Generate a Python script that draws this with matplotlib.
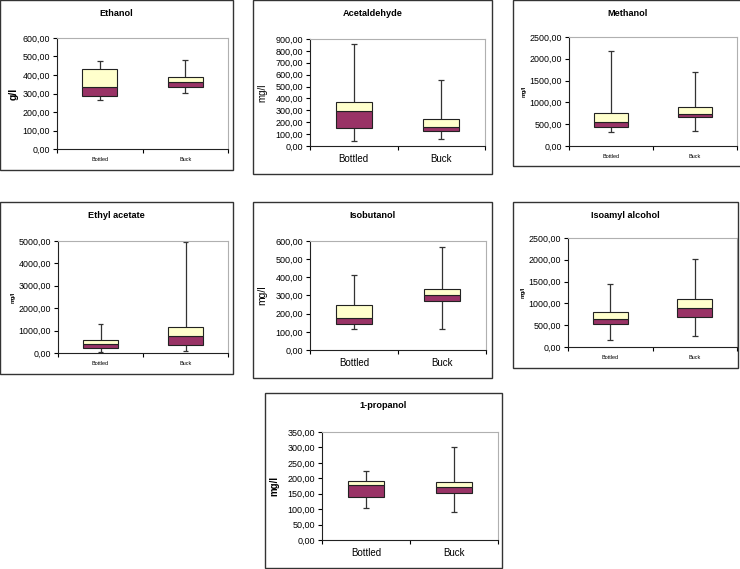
import matplotlib
matplotlib.use("Agg")
from matplotlib import pyplot as plt
from matplotlib.patches import Rectangle
from matplotlib.ticker import FuncFormatter, MultipleLocator, FixedLocator

plt.rcParams['font.family'] = ['Liberation Sans', 'DejaVu Sans']

# Dados
compostos = ["Ethanol", "Acetaldehyde", "Methanol", "Ethyl acetate",
             "Isobutanol", "Isoamyl alcohol", "1-propanol"]
unidades = ["g/l", "mg/l", "mg/l", "mg/l", "mg/l", "mg/l", "mg/l"]
grupos = ["Bottled", "Buck"]
y_max = [600, 900, 2500, 5000, 600, 2500, 350]
y_passo = [100, 100, 500, 1000, 100, 500, 50]

# Bottled: minimo, Q1, mediana, Q3, maximo
bot_min = [266, 39, 314, 45, 117, 168, 103]
bot_q1 = [284, 149, 437, 209, 141, 528, 140]
bot_med = [333, 294, 552, 403, 175, 642, 178]
bot_q3 = [434, 367, 759, 567, 249, 795, 191]
bot_max = [477, 855, 2178, 1313, 412, 1445, 224]

# Buck
buck_min = [304, 59, 337, 104, 117, 260, 90]
buck_q1 = [333, 123, 667, 358, 268, 688, 151]
buck_med = [363, 160, 736, 746, 305, 894, 171]
buck_q3 = [387, 224, 897, 1179, 335, 1101, 189]
buck_max = [481, 555, 1687, 4955, 567, 2011, 300]

# Layout em pixels: moldura (x0, y0, x1, y1) e área do gráfico (esq, dir, topo, base)
W, H = 740, 569
molduras = [(0, 0, 233, 170), (253, 0, 492, 174), (513, 0, 742, 166),
            (0, 202, 233, 374), (253, 202, 492, 378), (513, 202, 738, 368),
            (265, 393, 502, 568)]
areas = [(57, 228, 38, 149), (310, 485, 39, 146), (569, 737, 37, 146),
         (58, 228, 241, 353), (310, 486, 241, 350), (568, 737, 238, 347),
         (322, 498, 432, 540)]
# tamanho de fonte: ticks y, rótulos x, rótulo y, negrito no rótulo y, espaço do rótulo y
fontes = [(6.4, 4, 7.5, 'bold', 3), (6.5, 7, 7, 'normal', 6), (6.4, 4, 4, 'bold', 2),
          (6.4, 4, 4, 'bold', 2), (6.5, 7, 7.5, 'normal', 6), (6.4, 4, 4, 'bold', 2),
          (6.5, 7, 7, 'bold', 6)]

roxo = '#993366'
creme = '#ffffcc'

fig = plt.figure(figsize=(W / 100, H / 100), dpi=100)

for i, nome in enumerate(compostos):
    x0, y0, x1, y1 = molduras[i]
    fig.patches.append(Rectangle((x0 / W, 1 - y1 / H), (x1 - x0) / W, (y1 - y0) / H,
                                 transform=fig.transFigure, fill=False,
                                 edgecolor='#333333', linewidth=1.0, zorder=0))
    fig.text((x0 + x1) / 2 / W, 1 - (y0 + 13) / H, nome, ha='center', va='center',
             fontsize=6.6, fontweight='bold')

    esq, dir_, topo, base = areas[i]
    ax = fig.add_axes([esq / W, 1 - base / H, (dir_ - esq) / W, (base - topo) / H])

    mins = [bot_min[i], buck_min[i]]
    q1s = [bot_q1[i], buck_q1[i]]
    meds = [bot_med[i], buck_med[i]]
    q3s = [bot_q3[i], buck_q3[i]]
    maxs = [bot_max[i], buck_max[i]]
    pos = [1, 2]

    # bigodes
    ax.vlines(pos, mins, q1s, color='#333333', linewidth=0.9, zorder=2)
    ax.vlines(pos, q3s, maxs, color='#333333', linewidth=0.9, zorder=2)
    ax.hlines(mins, [p - 0.035 for p in pos], [p + 0.035 for p in pos],
              color='#333333', linewidth=0.9, zorder=2)
    ax.hlines(maxs, [p - 0.035 for p in pos], [p + 0.035 for p in pos],
              color='#333333', linewidth=0.9, zorder=2)
    # caixas
    ax.bar(pos, [m - q for m, q in zip(meds, q1s)], bottom=q1s, width=0.41,
           color=roxo, edgecolor='#222222', linewidth=0.8, zorder=3)
    ax.bar(pos, [q - m for q, m in zip(q3s, meds)], bottom=meds, width=0.41,
           color=creme, edgecolor='#222222', linewidth=0.8, zorder=3)

    ax.set_xlim(0.5, 2.5)
    ax.set_ylim(0, y_max[i])
    ax.yaxis.set_major_locator(MultipleLocator(y_passo[i]))
    ax.yaxis.set_major_formatter(FuncFormatter(lambda v, p: f"{v:.2f}".replace('.', ',')))
    ax.xaxis.set_major_locator(FixedLocator([0.5, 1.5, 2.5]))
    ax.xaxis.set_minor_locator(FixedLocator(pos))
    ax.set_xticklabels([], minor=False)
    ax.set_xticklabels(grupos, minor=True)
    ax.tick_params(axis='x', which='major', length=3, width=0.8, direction='out')
    ax.tick_params(axis='x', which='minor', length=0, pad=6, labelsize=fontes[i][1])
    ax.tick_params(axis='y', length=3, width=0.8, direction='out', pad=2,
                   labelsize=fontes[i][0])
    ax.set_ylabel(unidades[i], fontsize=fontes[i][2], fontweight=fontes[i][3],
                  labelpad=fontes[i][4])

    for lado in ['top', 'right']:
        ax.spines[lado].set_color('#b0b0b0')
        ax.spines[lado].set_linewidth(0.8)
    for lado in ['left', 'bottom']:
        ax.spines[lado].set_color('#222222')
        ax.spines[lado].set_linewidth(0.8)

fig.savefig('out.png', dpi=100)
